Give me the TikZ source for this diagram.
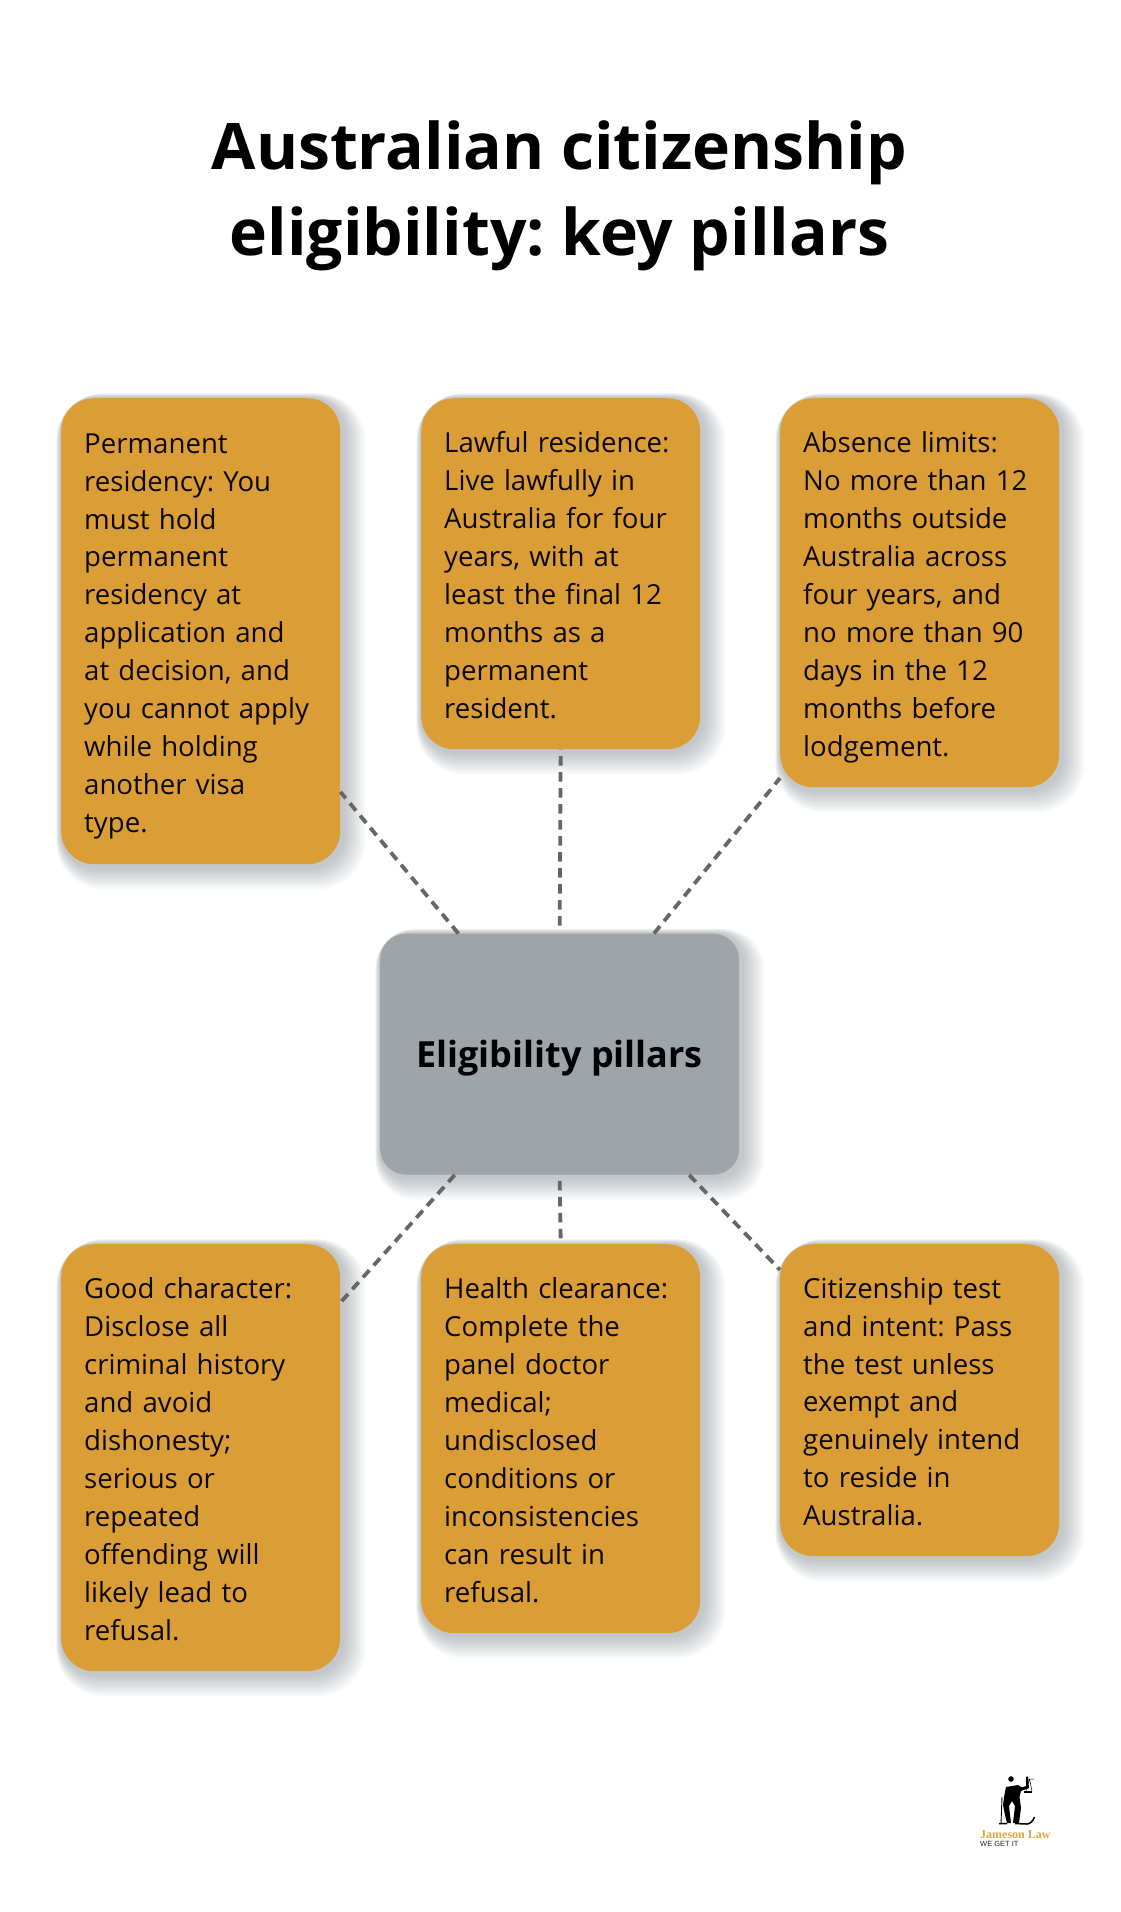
\documentclass[tikz,border=0pt]{standalone}
\usepackage{fontspec}
\setmainfont{Open Sans}
\newfontfamily\logoserif{Liberation Serif}
\newfontfamily\logosans{Liberation Sans}
\definecolor{pillarorange}{HTML}{DB9D36}
\definecolor{pillargray}{HTML}{9EA4A8}
\definecolor{dashgray}{HTML}{666666}
\definecolor{logogold}{HTML}{DDA63F}
\definecolor{shadowtone}{HTML}{56626C}
\tikzset{
  x=1pt,y=-1pt,
  shadowring/.style 2 args={preaction={draw=shadowtone,fill=none,line width=#1,draw opacity=0.045,transform canvas={shift={(#2,-#2)}}}},
  softshadow/.style={shadowring={30pt}{10pt},shadowring={27pt}{9pt},shadowring={24pt}{8pt},shadowring={21pt}{7pt},shadowring={18pt}{6pt},shadowring={15pt}{5pt},shadowring={12pt}{4pt},shadowring={9pt}{3pt},shadowring={6pt}{2pt}},
  pillar/.style={rectangle,rounded corners=33pt,fill=pillarorange,softshadow,anchor=north west,
    minimum width=279pt,text width=233pt,inner xsep=23pt,inner ysep=0pt,align=left,
    font=\frenchspacing\fontsize{27.6}{37.95}\selectfont,text=black!95!pillarorange,
    execute at begin node={\rule{0pt}{30pt}\ignorespaces},
    execute at end node={\rule[-6.5pt]{0pt}{0pt}}},
  hub/.style={rectangle,rounded corners=26pt,fill=pillargray,softshadow,anchor=north west,
    minimum width=359pt,minimum height=241pt,inner sep=0pt,font=\bfseries\fontsize{36}{40}\selectfont,text=black},
  headline/.style={align=center,inner sep=0pt,font=\bfseries\frenchspacing\fontsize{64.2}{86}\selectfont,text=black},
  link/.style={draw=dashgray,line width=3.8pt,dash pattern=on 9.5pt off 6.5pt},
}
\begin{document}
\begin{tikzpicture}
\useasboundingbox (0,0) rectangle (1120,1912);
\fill[white] (0,0) rectangle (1120,1912);

\node[headline] (title) at (559.5,196) {Australian citizenship\\eligibility: key pillars};

\node[pillar,minimum height=466pt] (perm) at (61,398) {Permanent\\residency: You\\must hold\\permanent\\residency at\\application and\\at decision, and\\you cannot apply\\while holding\\another visa\\type.};
\node[pillar,minimum height=351pt] (lawful) at (421,398) {Lawful residence:\\Live lawfully in\\Australia for four\\years, with at\\least the final 12\\months as a\\permanent\\resident.};
\node[pillar,minimum height=389pt] (absence) at (780,398) {Absence limits:\\No more than 12\\months outside\\Australia across\\four years, and\\no more than 90\\days in the 12\\months before\\lodgement.};

\node[hub] (hubbox) at (380,933.5) {\rule[-7pt]{0pt}{43pt}Eligibility pillars};

\node[pillar,minimum height=427pt] (character) at (61,1244) {Good character:\\Disclose all\\criminal history\\and avoid\\dishonesty;\\serious or\\repeated\\offending will\\likely lead to\\refusal.};
\node[pillar,minimum height=389pt] (health) at (421,1244) {Health clearance:\\Complete the\\panel doctor\\medical;\\undisclosed\\conditions or\\inconsistencies\\can result in\\refusal.};
\node[pillar,minimum height=312pt] (test) at (780,1244) {Citizenship test\\and intent: Pass\\the test unless\\exempt and\\genuinely intend\\to reside in\\Australia.};

\draw[link] (hubbox.130.9) -- (perm.-49.4);
\draw[link] ([yshift=8pt]hubbox.north) -- (lawful.south);
\draw[link] (hubbox.52.5) -- (absence.-127.5);
\draw[link] (hubbox.-131.5) -- (character.48.8);
\draw[link] ([yshift=-6pt]hubbox.south) -- ([yshift=4pt]health.north);
\draw[link] (hubbox.-43.4) -- (test.137.5);

% logo figure
\fill[black] (1011,1779) circle (2.8);
\fill[black] (1006,1787) -- (1018,1785) -- (1022,1787.5) -- (1026,1786) -- (1026,1776.5) -- (1028,1776.5)
  -- (1029,1788) -- (1021,1791) -- (1019.5,1797) -- (1021,1808) -- (1019,1823)
  -- (1013,1823) -- (1015,1806) -- (1012,1801) -- (1009,1806) -- (1011,1823) -- (1007,1823)
  -- (1005,1815) -- (1003,1805) -- (1004,1797) -- cycle;
\draw[black,line width=0.9pt] (1002,1797) -- (1001,1824);
\draw[black,line width=1.5pt] (999,1823.5) -- (1007,1823.5) (1015,1823.5) -- (1027,1824) .. controls (1030,1824) and (1033,1821) .. (1034.5,1817);
\draw[black,line width=0.5pt] (1027,1779) -- (1034,1779) (1029.5,1779) -- (1026,1791) (1029.5,1779) -- (1032,1791);
\fill[black] (1023.5,1791) rectangle (1032,1792.5);
\node[inner sep=0pt,anchor=west,text=logogold] (logoname) at (980,1835)
  {\logoserif\bfseries\fontsize{12}{12}\selectfont Jameson Law};
\node[inner sep=0pt,anchor=west,text=black!85] (logotag) at (980,1844)
  {\logosans\fontsize{7.5}{8}\selectfont WE GET IT};
\end{tikzpicture}
\end{document}
